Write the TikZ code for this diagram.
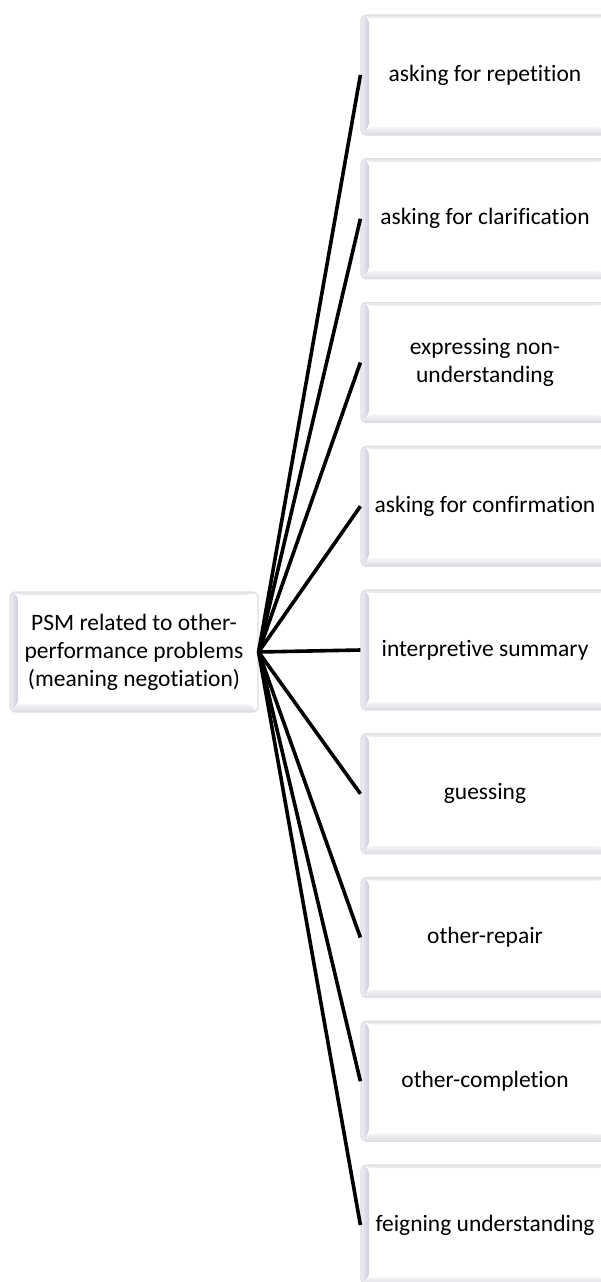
\documentclass[tikz,border=0pt]{standalone}
\usepackage{fontspec}
\setmainfont{Carlito}[Ligatures=NoCommon]
\definecolor{edgegray}{RGB}{222,222,226}
\definecolor{topbev}{RGB}{234,234,238}
\definecolor{botbevA}{RGB}{246,246,249}
\definecolor{botbevB}{RGB}{218,218,226}
\definecolor{leftbevA}{RGB}{238,238,244}
\definecolor{leftbevB}{RGB}{206,206,220}
\begin{document}
\begin{tikzpicture}[x=1pt,y=1pt,
  bevelbox/.style={
    rectangle, rounded corners=5pt, draw=edgegray, line width=1.2pt,
    fill=white, minimum width=248pt, minimum height=120pt, inner sep=2pt,
    align=center, font=\fontsize{23.5}{28}\selectfont, text=black,
    path picture={
      \coordinate (sw) at (path picture bounding box.south west);
      \coordinate (nw) at (path picture bounding box.north west);
      \coordinate (se) at (path picture bounding box.south east);
      \coordinate (ne) at (path picture bounding box.north east);
      % top bevel
      \fill[topbev]
        (nw) -- (ne) -- ([shift={(-8pt,-3pt)}]ne) -- ([shift={(8pt,-3pt)}]nw) -- cycle;
      % bottom bevel
      \shade[top color=botbevA, bottom color=botbevB]
        (sw) -- ([shift={(8pt,8pt)}]sw) -- ([shift={(-8pt,8pt)}]se) -- (se) -- cycle;
      % left bevel
      \shade[left color=leftbevA, right color=leftbevB]
        (sw) -- (nw) -- ([shift={(8pt,-3pt)}]nw) -- ([shift={(8pt,8pt)}]sw) -- cycle;
    }},
  branch/.style={line width=3.6pt, black}]
\useasboundingbox (0,0) rectangle (601,-1282);

\node[bevelbox] (root) at (134,-652) {PSM related to other-\\performance problems\\(meaning negotiation)};

\node[bevelbox] (b1) at (485,-75)     {asking for repetition};
\node[bevelbox] (b2) at (485,-218.75) {asking for clarification};
\node[bevelbox] (b3) at (485,-362.5)  {expressing non-\\understanding};
\node[bevelbox] (b4) at (485,-506.25) {asking for confirmation};
\node[bevelbox] (b5) at (485,-650)    {interpretive summary};
\node[bevelbox] (b6) at (485,-793.75) {guessing};
\node[bevelbox] (b7) at (485,-937.5)  {other-repair};
\node[bevelbox] (b8) at (485,-1081.25){other-completion};
\node[bevelbox] (b9) at (485,-1225)   {feigning understanding};

\foreach \b in {b1,b2,b3,b4,b5,b6,b7,b8,b9}
  \draw[branch] (root.east) -- (\b.west);
\end{tikzpicture}
\end{document}
